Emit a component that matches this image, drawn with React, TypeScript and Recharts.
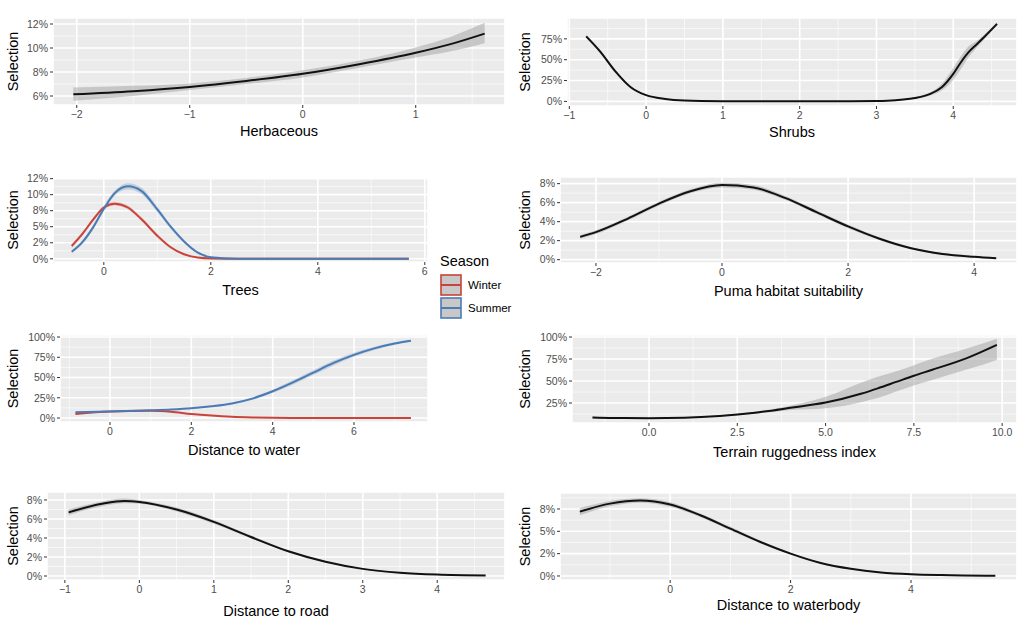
import { ComposedChart, Area, Line, XAxis, YAxis, CartesianGrid } from 'recharts';

const FONT = '"Liberation Sans", Arial, Helvetica, sans-serif';
const RED = '#C9433A';
const BLUE = '#4A7BB5';
const BLACK = '#111111';

// Herbaceous
const herbX = [-2.03, -1.5, -1, -0.5, 0, 0.5, 1, 1.3, 1.61];
const herbFit = [6.14, 6.4, 6.75, 7.25, 7.85, 8.65, 9.6, 10.3, 11.2];
const herbLo = [5.6, 6.0, 6.5, 7.0, 7.55, 8.35, 9.2, 9.7, 10.4];
const herbHi = [6.7, 6.85, 7.05, 7.5, 8.15, 8.95, 10.05, 10.9, 12.1];

// Shrubs
const shrubX = [-0.78, -0.6, -0.4, -0.2, 0, 0.25, 0.5, 1, 1.5, 2, 2.5, 3, 3.25, 3.5, 3.7, 3.85, 4.0, 4.1, 4.2, 4.3, 4.4, 4.57];
const shrubFit = [78, 60, 36, 17, 7.5, 3, 1.2, 0.3, 0.1, 0.1, 0.2, 0.6, 1.5, 4, 9, 17, 33, 47, 59, 68, 77, 93];
const shrubLo = [76, 58, 34, 16, 7, 2.7, 1, 0.2, 0.05, 0.05, 0.1, 0.4, 1.1, 3, 7, 13, 26, 39, 53, 64, 74, 91];
const shrubHi = [80, 62, 38, 18, 8, 3.3, 1.4, 0.4, 0.15, 0.15, 0.3, 0.8, 1.9, 5, 11, 21, 40, 54, 66, 72, 80, 95];

// Trees (by season)
const treeX = [-0.6, -0.4, -0.2, 0, 0.2, 0.45, 0.7, 1.0, 1.25, 1.5, 1.75, 2.0, 2.5, 3, 4, 5, 5.7];
const treeWinter = [2.0, 3.9, 6.1, 8.0, 8.6, 8.0, 6.2, 3.6, 1.8, 0.7, 0.2, 0.05, 0, 0, 0, 0, 0];
const treeWinterLo = [1.7, 3.6, 5.8, 7.7, 8.3, 7.7, 5.9, 3.3, 1.6, 0.6, 0.15, 0.03, 0, 0, 0, 0, 0];
const treeWinterHi = [2.3, 4.2, 6.4, 8.3, 8.9, 8.3, 6.5, 3.9, 2.0, 0.8, 0.25, 0.07, 0, 0, 0, 0, 0];
const treeSummer = [1.1, 2.6, 4.9, 7.8, 10.2, 11.3, 10.6, 7.7, 5.0, 2.7, 1.0, 0.25, 0.02, 0, 0, 0, 0];
const treeSummerLo = [0.9, 2.3, 4.6, 7.4, 9.8, 10.8, 10.1, 7.3, 4.7, 2.5, 0.9, 0.2, 0.01, 0, 0, 0, 0];
const treeSummerHi = [1.3, 2.9, 5.2, 8.2, 10.6, 11.8, 11.1, 8.1, 5.3, 2.9, 1.1, 0.3, 0.03, 0, 0, 0, 0];

// Puma habitat suitability
const pumaX = [-2.25, -2, -1.5, -1, -0.5, 0, 0.5, 1, 1.5, 2, 2.5, 3, 3.5, 4, 4.35];
const pumaFit = [2.4, 2.9, 4.3, 5.9, 7.2, 7.85, 7.6, 6.5, 5.0, 3.5, 2.2, 1.2, 0.6, 0.3, 0.15];
const pumaLo = [2.2, 2.7, 4.1, 5.7, 7.0, 7.6, 7.35, 6.3, 4.8, 3.3, 2.05, 1.1, 0.5, 0.25, 0.1];
const pumaHi = [2.6, 3.1, 4.5, 6.1, 7.4, 8.1, 7.85, 6.7, 5.2, 3.7, 2.35, 1.3, 0.7, 0.35, 0.2];

// Distance to water (by season)
const waterX = [-0.85, 0, 1, 1.5, 2, 2.5, 3, 3.5, 4, 4.5, 5, 5.5, 6, 6.5, 7, 7.4];
const waterWinter = [5, 8, 9, 7.8, 5, 3, 1.6, 0.8, 0.3, 0.1, 0, 0, 0, 0, 0, 0];
const waterWinterLo = [4, 7.3, 8.4, 7.2, 4.5, 2.6, 1.3, 0.6, 0.2, 0.05, 0, 0, 0, 0, 0, 0];
const waterWinterHi = [6, 8.7, 9.6, 8.4, 5.5, 3.4, 1.9, 1.0, 0.4, 0.15, 0.05, 0, 0, 0, 0, 0];
const waterSummer = [7, 8, 9.5, 10.5, 12, 14.5, 18, 24, 33, 44, 56, 68, 78, 86, 92, 95.5];
const waterSummerLo = [6, 7.4, 9, 10, 11.3, 13.6, 17, 22.5, 31, 41.5, 53, 65, 75.5, 84, 90.5, 94.5];
const waterSummerHi = [8, 8.6, 10, 11, 12.7, 15.4, 19, 25.5, 35, 46.5, 59, 71, 80.5, 88, 93.5, 96.5];

// Terrain ruggedness index
const terrX = [-1.6, -1, 0, 1, 2, 3, 4, 5, 6, 6.5, 7, 7.5, 8, 9, 9.85];
const terrFit = [8.5, 8, 7.8, 8.3, 10.3, 14, 19.5, 25.5, 35.5, 42, 49, 56, 62.5, 76, 91];
const terrLo = [7.5, 7.3, 7.3, 7.8, 9.6, 12.8, 17, 19, 26, 31, 38, 45, 51, 63, 74];
const terrHi = [9.5, 8.7, 8.3, 8.8, 11, 15.2, 22, 32, 48, 55, 61, 68, 75, 87, 98];

// Distance to road
const roadX = [-0.95, -0.5, -0.2, 0, 0.5, 1, 1.5, 2, 2.5, 3, 3.5, 4, 4.65];
const roadFit = [6.7, 7.6, 7.9, 7.8, 7.0, 5.7, 4.1, 2.6, 1.5, 0.75, 0.35, 0.15, 0.05];
const roadLo = [6.4, 7.35, 7.65, 7.6, 6.8, 5.5, 3.95, 2.5, 1.42, 0.7, 0.3, 0.12, 0.03];
const roadHi = [7.0, 7.85, 8.15, 8.0, 7.2, 5.9, 4.25, 2.7, 1.58, 0.8, 0.4, 0.18, 0.07];

// Distance to waterbody
const wbX = [-1.5, -1, -0.5, 0, 0.5, 1, 1.5, 2, 2.5, 3, 3.5, 4, 4.5, 5.4];
const wbFit = [7.2, 8.1, 8.45, 8.0, 6.8, 5.3, 3.8, 2.5, 1.45, 0.8, 0.4, 0.2, 0.1, 0.02];
const wbLo = [6.8, 7.8, 8.2, 7.75, 6.6, 5.1, 3.65, 2.4, 1.38, 0.75, 0.35, 0.16, 0.07, 0];
const wbHi = [7.6, 8.4, 8.7, 8.25, 7.0, 5.5, 3.95, 2.6, 1.52, 0.85, 0.45, 0.24, 0.13, 0.04];

type Series = { fit: number[]; lo: number[]; hi: number[]; color: string; band: string; bandOpacity: number };

type PanelSpec = {
  id: string;
  title: string;
  left: number;
  top: number;
  width: number;
  height: number;
  yAxisWidth: number;
  titleGap: number;
  x: number[];
  xDomain: [number, number];
  xTicks: number[];
  xLabels: string[];
  xMinor: number[];
  yDomain: [number, number];
  yTicks: number[];
  yLabels: string[];
  yMinor: number[];
  series: Series[];
};

const grey = (fit: number[], lo: number[], hi: number[]): Series => ({
  fit, lo, hi, color: BLACK, band: '#999999', bandOpacity: 0.45,
});
const winter = (fit: number[], lo: number[], hi: number[]): Series => ({
  fit, lo, hi, color: RED, band: RED, bandOpacity: 0.2,
});
const summer = (fit: number[], lo: number[], hi: number[]): Series => ({
  fit, lo, hi, color: BLUE, band: BLUE, bandOpacity: 0.25,
});

const panels: PanelSpec[] = [
  {
    id: 'herb', title: 'Herbaceous', left: 0, top: 13, width: 510, height: 144, yAxisWidth: 53, titleGap: 26,
    x: herbX, xDomain: [-2.21, 1.79], xTicks: [-2, -1, 0, 1], xLabels: ['\u22122', '\u22121', '0', '1'],
    xMinor: [-1.5, -0.5, 0.5, 1.5],
    yDomain: [5.25, 12.5], yTicks: [6, 8, 10, 12], yLabels: ['6%', '8%', '10%', '12%'], yMinor: [7, 9, 11],
    series: [grey(herbFit, herbLo, herbHi)],
  },
  {
    id: 'shrub', title: 'Shrubs', left: 512, top: 13, width: 510, height: 145, yAxisWidth: 55, titleGap: 26,
    x: shrubX, xDomain: [-1.03, 4.83], xTicks: [-1, 0, 1, 2, 3, 4],
    xLabels: ['\u22121', '0', '1', '2', '3', '4'], xMinor: [-0.5, 0.5, 1.5, 2.5, 3.5, 4.5],
    yDomain: [-5.5, 100], yTicks: [0, 25, 50, 75], yLabels: ['0%', '25%', '50%', '75%'],
    yMinor: [12.5, 37.5, 62.5, 87.5],
    series: [grey(shrubFit, shrubLo, shrubHi)],
  },
  {
    id: 'trees', title: 'Trees', left: 0, top: 173, width: 433, height: 145, yAxisWidth: 53, titleGap: 28,
    x: treeX, xDomain: [-0.95, 6.06], xTicks: [0, 2, 4, 6], xLabels: ['0', '2', '4', '6'], xMinor: [1, 3, 5],
    yDomain: [-0.5, 12.6], yTicks: [0, 2.5, 5, 7.5, 10, 12.5], yLabels: ['0%', '2%', '5%', '8%', '10%', '12%'],
    yMinor: [1.25, 3.75, 6.25, 8.75, 11.25],
    series: [winter(treeWinter, treeWinterLo, treeWinterHi), summer(treeSummer, treeSummerLo, treeSummerHi)],
  },
  {
    id: 'puma', title: 'Puma habitat suitability', left: 512, top: 172, width: 510, height: 147, yAxisWidth: 48, titleGap: 28,
    x: pumaX, xDomain: [-2.57, 4.68], xTicks: [-2, 0, 2, 4], xLabels: ['\u22122', '0', '2', '4'], xMinor: [-1, 1, 3],
    yDomain: [-0.35, 8.7], yTicks: [0, 2, 4, 6, 8], yLabels: ['0%', '2%', '4%', '6%', '8%'], yMinor: [1, 3, 5, 7],
    series: [grey(pumaFit, pumaLo, pumaHi)],
  },
  {
    id: 'water', title: 'Distance to water', left: 0, top: 330, width: 433, height: 148, yAxisWidth: 60, titleGap: 28,
    x: waterX, xDomain: [-1.23, 7.82], xTicks: [0, 2, 4, 6], xLabels: ['0', '2', '4', '6'], xMinor: [-1, 1, 3, 5, 7],
    yDomain: [-4.9, 102.5], yTicks: [0, 25, 50, 75, 100], yLabels: ['0%', '25%', '50%', '75%', '100%'],
    yMinor: [12.5, 37.5, 62.5, 87.5],
    series: [winter(waterWinter, waterWinterLo, waterWinterHi), summer(waterSummer, waterSummerLo, waterSummerHi)],
  },
  {
    id: 'terrain', title: 'Terrain ruggedness index', left: 512, top: 330, width: 510, height: 151, yAxisWidth: 60, titleGap: 29,
    x: terrX, xDomain: [-2.18, 10.42], xTicks: [0, 2.5, 5, 7.5, 10], xLabels: ['0.0', '2.5', '5.0', '7.5', '10.0'],
    xMinor: [-1.25, 1.25, 3.75, 6.25, 8.75],
    yDomain: [2.3, 102.3], yTicks: [25, 50, 75, 100], yLabels: ['25%', '50%', '75%', '100%'],
    yMinor: [12.5, 37.5, 62.5, 87.5],
    series: [grey(terrFit, terrLo, terrHi)],
  },
  {
    id: 'road', title: 'Distance to road', left: 0, top: 487, width: 510, height: 155, yAxisWidth: 47, titleGap: 31,
    x: roadX, xDomain: [-1.24, 4.91], xTicks: [-1, 0, 1, 2, 3, 4], xLabels: ['\u22121', '0', '1', '2', '3', '4'],
    xMinor: [-0.5, 0.5, 1.5, 2.5, 3.5, 4.5],
    yDomain: [-0.42, 8.84], yTicks: [0, 2, 4, 6, 8], yLabels: ['0%', '2%', '4%', '6%', '8%'], yMinor: [1, 3, 5, 7],
    series: [grey(roadFit, roadLo, roadHi)],
  },
  {
    id: 'waterbody', title: 'Distance to waterbody', left: 512, top: 488, width: 510, height: 142, yAxisWidth: 48, titleGap: 25,
    x: wbX, xDomain: [-1.83, 5.76], xTicks: [0, 2, 4], xLabels: ['0', '2', '4'], xMinor: [-1, 1, 3, 5],
    yDomain: [-0.45, 9.29], yTicks: [0, 2.5, 5, 7.5], yLabels: ['0%', '2%', '5%', '8%'],
    yMinor: [1.25, 3.75, 6.25, 8.75],
    series: [grey(wbFit, wbLo, wbHi)],
  },
];

const tickStyle = { fill: '#4D4D4D', fontSize: 10.5 };

function Panel({ p }: { p: PanelSpec }) {
  const rows = p.x.map((x, i) => {
    const row: Record<string, any> = { x };
    p.series.forEach((s, k) => {
      row['f' + k] = s.fit[i];
      row['b' + k] = [s.lo[i], s.hi[i]];
    });
    return row;
  });

  return (
    <div style={{ position: 'absolute', left: p.left, top: p.top }}>
      <ComposedChart width={p.width} height={p.height} data={rows} margin={{ top: 5, right: 5, left: 0, bottom: 0 }}>
        <CartesianGrid
          fill="#EBEBEB"
          stroke="#FFFFFF"
          strokeWidth={0.6}
          horizontalValues={p.yMinor}
          verticalValues={p.xMinor}
        />
        <CartesianGrid stroke="#FFFFFF" strokeWidth={1.6} />
        <XAxis
          type="number"
          dataKey="x"
          domain={p.xDomain}
          allowDataOverflow
          ticks={p.xTicks}
          tickFormatter={(v, i) => p.xLabels[i]}
          interval={0}
          height={p.titleGap * 2}
          axisLine={false}
          tickSize={3}
          tickMargin={3}
          tickLine={{ stroke: '#333333' }}
          tick={tickStyle}
          label={{ value: p.title, position: 'center', fill: '#000000', fontSize: 14.5 }}
        />
        <YAxis
          type="number"
          domain={p.yDomain}
          allowDataOverflow
          ticks={p.yTicks}
          tickFormatter={(v, i) => p.yLabels[i]}
          interval={0}
          width={p.yAxisWidth}
          axisLine={false}
          tickSize={3}
          tickMargin={2}
          tickLine={{ stroke: '#333333' }}
          tick={tickStyle}
          label={{
            value: 'Selection',
            angle: -90,
            position: 'insideLeft',
            offset: 13,
            fill: '#000000',
            fontSize: 14.5,
            style: { textAnchor: 'middle' },
          }}
        />
        {p.series.map((s, k) => (
          <Area
            key={'b' + k}
            type="monotone"
            dataKey={'b' + k}
            stroke="none"
            fill={s.band}
            fillOpacity={s.bandOpacity}
            isAnimationActive={false}
            activeDot={false}
          />
        ))}
        {p.series.map((s, k) => (
          <Line
            key={'f' + k}
            type="monotone"
            dataKey={'f' + k}
            stroke={s.color}
            strokeWidth={2}
            dot={false}
            activeDot={false}
            isAnimationActive={false}
          />
        ))}
      </ComposedChart>
    </div>
  );
}

const seasons = ['Winter', 'Summer'];
const seasonColors = [RED, BLUE];

function SeasonLegend() {
  return (
    <div style={{ position: 'absolute', left: 440, top: 252, fontFamily: FONT }}>
      <div style={{ fontSize: 14.5, color: '#000', lineHeight: '18px' }}>Season</div>
      {seasons.map((s, i) => (
        <div key={s} style={{ display: 'flex', alignItems: 'center', height: 23, marginTop: i === 0 ? 3 : 0 }}>
          <svg width={22} height={22}>
            <rect x={1} y={1} width={20} height={20} fill="#C8C8C8" stroke={seasonColors[i]} strokeWidth={1.6} />
            <line x1={1} x2={21} y1={11} y2={11} stroke={seasonColors[i]} strokeWidth={2} />
          </svg>
          <span style={{ fontSize: 11.5, color: '#000', marginLeft: 6 }}>{s}</span>
        </div>
      ))}
    </div>
  );
}

export default function App() {
  return (
    <div
      style={{
        position: 'absolute',
        left: 0,
        top: 0,
        width: 1024,
        height: 627,
        overflow: 'hidden',
        background: '#FFFFFF',
        fontFamily: FONT,
      }}
    >
      {panels.map((p) => (
        <Panel key={p.id} p={p} />
      ))}
      <SeasonLegend />
    </div>
  );
}
